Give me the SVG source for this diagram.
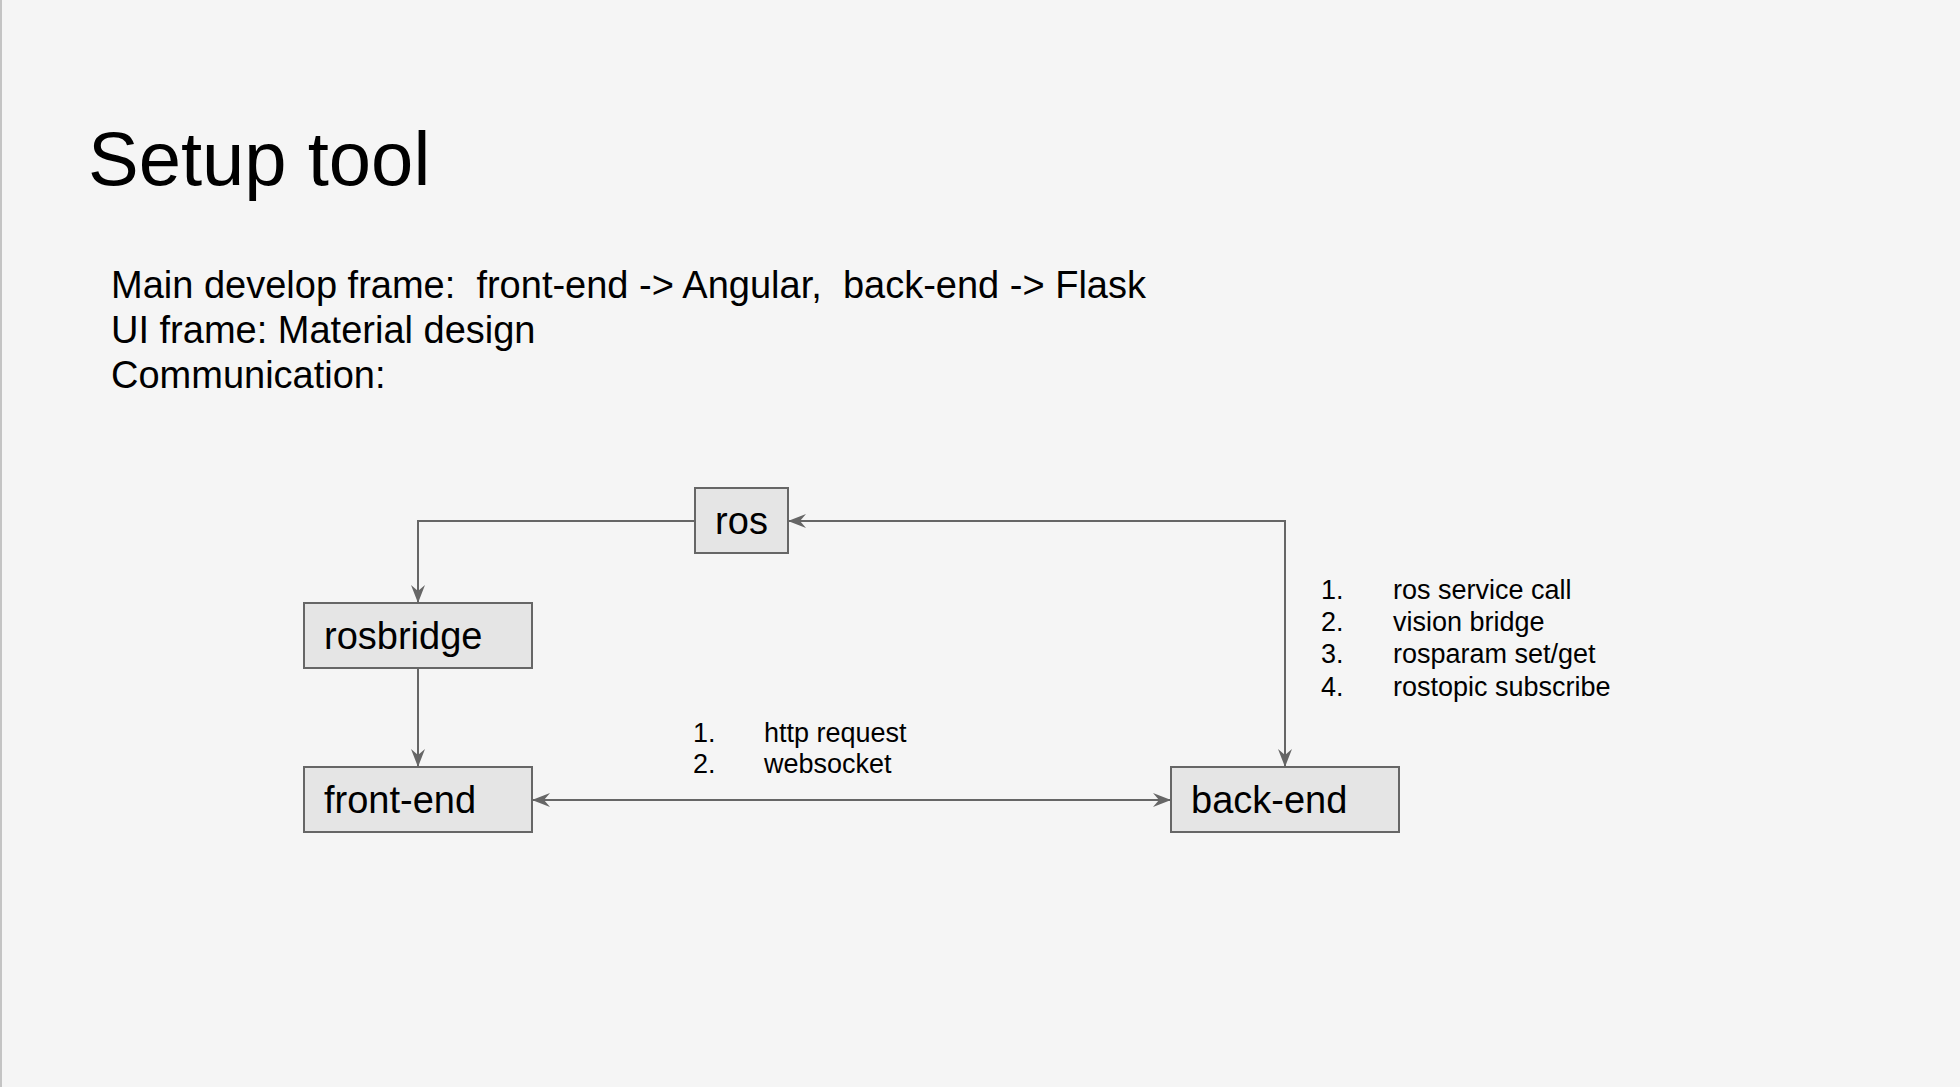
<svg xmlns="http://www.w3.org/2000/svg" width="1960" height="1087" viewBox="0 0 1960 1087">
<style>
text{font-family:"Liberation Sans",Arial,sans-serif;fill:#000;white-space:pre}
.title{font-size:76px}
.body{font-size:38px}
.box{fill:#e5e5e5;stroke:#666;stroke-width:2}
.lbl{font-size:38px}
.small{font-size:27px}
.conn{fill:none;stroke:#666;stroke-width:2}
</style>
<defs>
<marker id="arr" viewBox="0 0 18 14" refX="18" refY="7" markerWidth="18" markerHeight="14" markerUnits="userSpaceOnUse" orient="auto-start-reverse">
<path d="M0,0 L18,7 L0,14 L6,7 Z" fill="#666"/>
</marker>
</defs>
<rect x="0" y="0" width="1960" height="1087" fill="#f5f5f5"/>
<rect x="0" y="0" width="2" height="1087" fill="#c4c4c4"/>
<text class="title" x="88" y="185">Setup tool</text>
<text class="body" x="111" y="298" xml:space="preserve">Main develop frame:  front-end -&gt; Angular,  back-end -&gt; Flask</text>
<text class="body" x="111" y="343">UI frame: Material design</text>
<text class="body" x="111" y="388">Communication:</text>
<g id="connectors">
<path class="conn" d="M695,521 H418 V603" marker-end="url(#arr)"/>
<path class="conn" d="M418,668 V767" marker-end="url(#arr)"/>
<path class="conn" d="M788,521 H1285 V767" marker-start="url(#arr)" marker-end="url(#arr)"/>
<path class="conn" d="M532,800 H1171" marker-start="url(#arr)" marker-end="url(#arr)"/>
</g>
<g id="ros">
<rect class="box" x="695" y="488" width="93" height="65"/>
<text class="lbl" x="741.5" y="534" text-anchor="middle">ros</text>
</g>
<g id="rosbridge">
<rect class="box" x="304" y="603" width="228" height="65"/>
<text class="lbl" x="324" y="649">rosbridge</text>
</g>
<g id="front-end">
<rect class="box" x="304" y="767" width="228" height="65"/>
<text class="lbl" x="324" y="813">front-end</text>
</g>
<g id="back-end">
<rect class="box" x="1171" y="767" width="228" height="65"/>
<text class="lbl" x="1191" y="813">back-end</text>
</g>
<g id="label-http">
<text class="small" x="693" y="742">1.</text>
<text class="small" x="764" y="742">http request</text>
<text class="small" x="693" y="773">2.</text>
<text class="small" x="764" y="773">websocket</text>
</g>
<g id="label-ros">
<text class="small" x="1321" y="599">1.</text>
<text class="small" x="1393" y="599">ros service call</text>
<text class="small" x="1321" y="631">2.</text>
<text class="small" x="1393" y="631">vision bridge</text>
<text class="small" x="1321" y="663">3.</text>
<text class="small" x="1393" y="663">rosparam set/get</text>
<text class="small" x="1321" y="696">4.</text>
<text class="small" x="1393" y="696">rostopic subscribe</text>
</g>
</svg>
